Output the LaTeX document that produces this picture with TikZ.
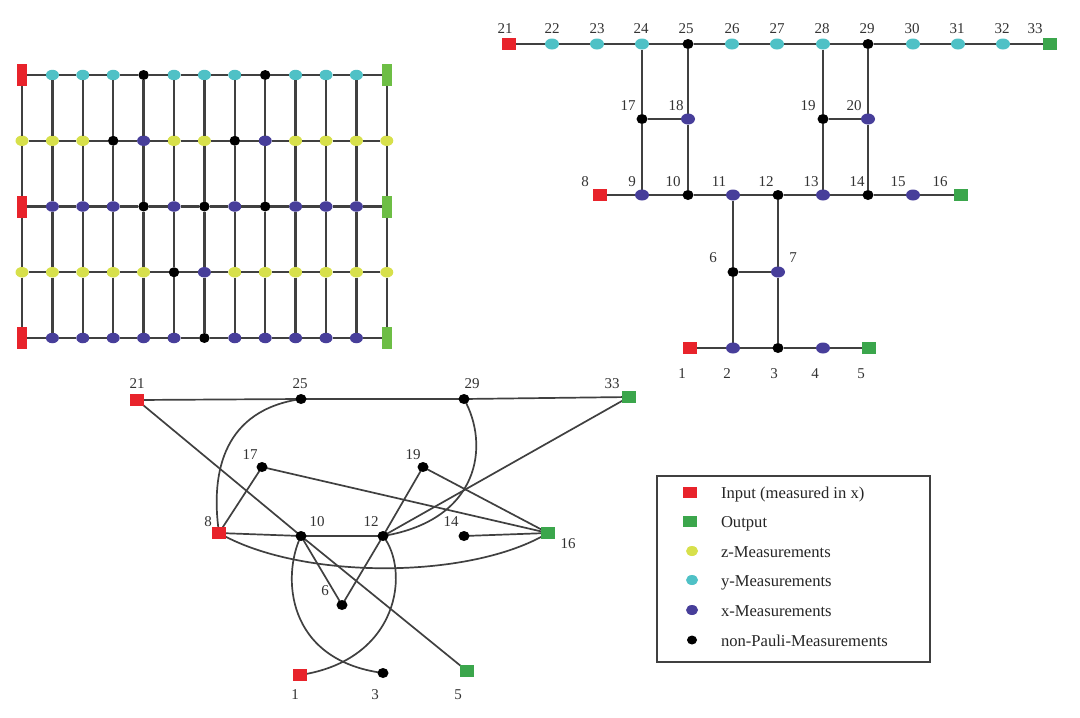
\documentclass[tikz,border=0pt]{standalone}
\usepackage{fontspec}
\setmainfont{Liberation Serif}
\usetikzlibrary{shapes.geometric}
\pgfdeclarelayer{bg}
\pgfsetlayers{bg,main}
\definecolor{cred}{HTML}{E8232B}
\definecolor{cgreenA}{HTML}{6DBE45}
\definecolor{cgreen}{HTML}{3BA64C}
\definecolor{cyel}{HTML}{D7E04B}
\definecolor{ccyan}{HTML}{4FC1C6}
\definecolor{cblue}{HTML}{473E9A}
\definecolor{cedge}{HTML}{404040}
\tikzset{
  every node/.style={inner sep=0pt, outer sep=0pt},
  gsq/.style={rectangle, minimum width=10pt, minimum height=22pt},
  gR/.style={gsq, fill=cred},
  gG/.style={gsq, fill=cgreenA},
  gdot/.style={ellipse, minimum width=13pt, minimum height=10.5pt},
  gY/.style={gdot, fill=cyel},
  gC/.style={gdot, fill=ccyan},
  gB/.style={gdot, fill=cblue},
  gK/.style={ellipse, fill=black, minimum width=10.5pt, minimum height=10pt},
  gln/.style={draw=cedge, line width=2.3pt},
  sqr/.style={rectangle, minimum width=14pt, minimum height=12pt},
  nR/.style={sqr, fill=cred},
  nG/.style={sqr, fill=cgreen},
  tdot/.style={ellipse, minimum width=14pt, minimum height=11pt},
  nC/.style={tdot, fill=ccyan},
  nB/.style={tdot, fill=cblue},
  nY/.style={tdot, fill=cyel},
  nK/.style={ellipse, fill=black, minimum width=11pt, minimum height=10pt},
  ln/.style={draw=cedge, line width=1.7pt},
  lab/.style={font=\fontsize{15}{15}\selectfont, text=black!80},
  legt/.style={font=\fontsize{16.6}{17}\selectfont, text=black!85, anchor=base west}
}
\begin{document}
\begin{tikzpicture}[x=1pt,y=-1pt]
\useasboundingbox (0,0) rectangle (1080,718);
\begin{pgfonlayer}{bg}
\fill[white] (0,0) rectangle (1080,718);
\end{pgfonlayer}

% ---------------- grid ----------------
\foreach \row [count=\j from 0] in {{R,C,C,C,K,C,C,C,K,C,C,C,G},{Y,Y,Y,K,B,Y,Y,K,B,Y,Y,Y,Y},{R,B,B,B,K,B,K,B,K,B,B,B,G},{Y,Y,Y,Y,Y,K,B,Y,Y,Y,Y,Y,Y},{R,B,B,B,B,B,K,B,B,B,B,B,G}}{
  \foreach \t [count=\i from 0] in \row {
    \node[g\t] (g-\i-\j) at ({22+30.4*\i},{75+65.75*\j}) {};
  }
}
\foreach \j in {0,1,2,3,4}{
  \foreach \a/\b in {0/1,1/2,2/3,3/4,4/5,5/6,6/7,7/8,8/9,9/10,10/11,11/12}{
    \draw[gln] (g-\a-\j) -- (g-\b-\j);
  }
}
\foreach \i in {0,1,2,3,4,5,6,7,8,9,10,11,12}{
  \foreach \a/\b in {0/1,1/2,2/3,3/4}{
    \draw[gln] (g-\i-\a) -- (g-\i-\b);
  }
}

% ---------------- top-right graph ----------------
\node[nR] (t21) at (509,44) {};
\node[nC] (t22) at (552,44) {};
\node[nC] (t23) at (597,44) {};
\node[nC] (t24) at (642,44) {};
\node[nK] (t25) at (688,44) {};
\node[nC] (t26) at (732,44) {};
\node[nC] (t27) at (777,44) {};
\node[nC] (t28) at (823,44) {};
\node[nK] (t29) at (868,44) {};
\node[nC] (t30) at (913,44) {};
\node[nC] (t31) at (958,44) {};
\node[nC] (t32) at (1003,44) {};
\node[nG] (t33) at (1050,44) {};
\node[nK] (t17) at (642,119) {};
\node[nB] (t18) at (688,119) {};
\node[nK] (t19) at (823,119) {};
\node[nB] (t20) at (868,119) {};
\node[nR] (t8) at (600,195) {};
\node[nB] (t9) at (642,195) {};
\node[nK] (t10) at (688,195) {};
\node[nB] (t11) at (733,195) {};
\node[nK] (t12) at (778,195) {};
\node[nB] (t13) at (823,195) {};
\node[nK] (t14) at (868,195) {};
\node[nB] (t15) at (913,195) {};
\node[nG] (t16) at (961,195) {};
\node[nK] (t6) at (733,272) {};
\node[nB] (t7) at (778,272) {};
\node[nR] (t1) at (690,348) {};
\node[nB] (t2) at (733,348) {};
\node[nK] (t3) at (778,348) {};
\node[nB] (t4) at (823,348) {};
\node[nG] (t5) at (869,348) {};

\foreach \n/\x in {21/505,22/552,23/597,24/641,25/686,26/732,27/777,28/822,29/867,30/912,31/957,32/1002,33/1035}
  \node[lab] (tl\n) at (\x,29) {\n};
\node[lab] (tl17) at (628,106) {17};
\node[lab] (tl18) at (676,106) {18};
\node[lab] (tl19) at (808,106) {19};
\node[lab] (tl20) at (854,106) {20};
\foreach \n/\x in {8/585,9/632,10/673,11/719,12/766,13/811,14/857,15/898,16/940}
  \node[lab] (tl\n) at (\x,182) {\n};
\node[lab] (tl6) at (713,258) {6};
\node[lab] (tl7) at (793,258) {7};
\foreach \n/\x in {1/682,2/727,3/774,4/815,5/861}
  \node[lab] (tl\n) at (\x,374) {\n};

\begin{pgfonlayer}{bg}
\draw[ln] (t21) -- (t22) -- (t23) -- (t24) -- (t25) -- (t26) -- (t27) -- (t28) -- (t29) -- (t30) -- (t31) -- (t32) -- (t33);
\draw[ln] (t24) -- (t17) -- (t9);
\draw[ln] (t25) -- (t18) -- (t10);
\draw[ln] (t17) -- (t18);
\draw[ln] (t28) -- (t19) -- (t13);
\draw[ln] (t29) -- (t20) -- (t14);
\draw[ln] (t19) -- (t20);
\draw[ln] (t8) -- (t9) -- (t10) -- (t11) -- (t12) -- (t13) -- (t14) -- (t15) -- (t16);
\draw[ln] (t11) -- (t6) -- (t2);
\draw[ln, line width=2.4pt] (t12) -- (t7) -- (t3);
\draw[ln] (t6) -- (t7);
\draw[ln] (t1) -- (t2) -- (t3) -- (t4) -- (t5);
\end{pgfonlayer}

% ---------------- bottom graph ----------------
\node[nR] (b21) at (137,400) {};
\node[nK] (b25) at (301,399) {};
\node[nK] (b29) at (464,399) {};
\node[nG] (b33) at (629,397) {};
\node[nK] (b17) at (262,467) {};
\node[nK] (b19) at (423,467) {};
\node[nR] (b8) at (219,533) {};
\node[nK] (b10) at (301,536) {};
\node[nK] (b12) at (383,536) {};
\node[nK] (b14) at (464,536) {};
\node[nG] (b16) at (548,533) {};
\node[nK] (b6) at (342,605) {};
\node[nR] (b1) at (300,675) {};
\node[nK] (b3) at (383,673) {};
\node[nG] (b5) at (467,671) {};

\node[lab] (bl21) at (137,384) {21};
\node[lab] (bl25) at (300,384) {25};
\node[lab] (bl29) at (472,384) {29};
\node[lab] (bl33) at (612,384) {33};
\node[lab] (bl17) at (250,455) {17};
\node[lab] (bl19) at (413,455) {19};
\node[lab] (bl8) at (208,522) {8};
\node[lab] (bl10) at (317,522) {10};
\node[lab] (bl12) at (371,522) {12};
\node[lab] (bl14) at (451,522) {14};
\node[lab] (bl16) at (568,544) {16};
\node[lab] (bl6) at (325,591) {6};
\node[lab] (bl1) at (295,695) {1};
\node[lab] (bl3) at (375,695) {3};
\node[lab] (bl5) at (458,695) {5};

\begin{pgfonlayer}{bg}
\draw[ln] (b21.center) -- (b25.center) -- (b29.center) -- (b33.center);
\draw[ln] (b21.center) -- (b10.center) -- (b5.center);
\draw[ln] (b25.center) .. controls (225,410) and (210,470) .. (b8.center);
\draw[ln] (b17.center) -- (b8.center);
\draw[ln] (b17.center) -- (b16.center);
\draw[ln] (b8.center) -- (b10.center) -- (b12.center);
\draw[ln] (b8.center) .. controls (300,580) and (470,580) .. (b16.center);
\draw[ln] (b29.center) .. controls (490,445) and (480,520) .. (b12.center);
\draw[ln] (b33.center) -- (b12.center);
\draw[ln] (b19.center) -- (b12.center);
\draw[ln] (b19.center) -- (b16.center);
\draw[ln] (b14.center) -- (b16.center);
\draw[ln] (b12.center) -- (b6.center);
\draw[ln] (b10.center) -- (b6.center);
\draw[ln] (b10.center) .. controls (282,575) and (285,660) .. (b3.center);
\draw[ln] (b12.center) .. controls (410,570) and (400,660) .. (b1.center);
\end{pgfonlayer}

% ---------------- legend ----------------
\node[draw=cedge, line width=1.5pt, minimum width=273pt, minimum height=186pt, anchor=north west] (legbox) at (657,476) {};
\node[rectangle, fill=cred, minimum width=14pt, minimum height=11pt] (lg1) at (690,492) {};
\node[rectangle, fill=cgreen, minimum width=14pt, minimum height=11pt] (lg2) at (690,521) {};
\node[ellipse, fill=cyel, minimum width=12pt, minimum height=10pt] (lg3) at (692,551) {};
\node[ellipse, fill=ccyan, minimum width=12pt, minimum height=10pt] (lg4) at (692,580) {};
\node[ellipse, fill=cblue, minimum width=12pt, minimum height=10pt] (lg5) at (692,610) {};
\node[ellipse, fill=black, minimum width=10pt, minimum height=9pt] (lg6) at (692,640) {};
\node[legt] (lt1) at (721,498) {Input (measured in x)};
\node[legt] (lt2) at (721,527) {Output};
\node[legt] (lt3) at (721,557) {z-Measurements};
\node[legt] (lt4) at (721,586) {y-Measurements};
\node[legt] (lt5) at (721,616) {x-Measurements};
\node[legt] (lt6) at (721,646) {non-Pauli-Measurements};
\end{tikzpicture}
\end{document}
